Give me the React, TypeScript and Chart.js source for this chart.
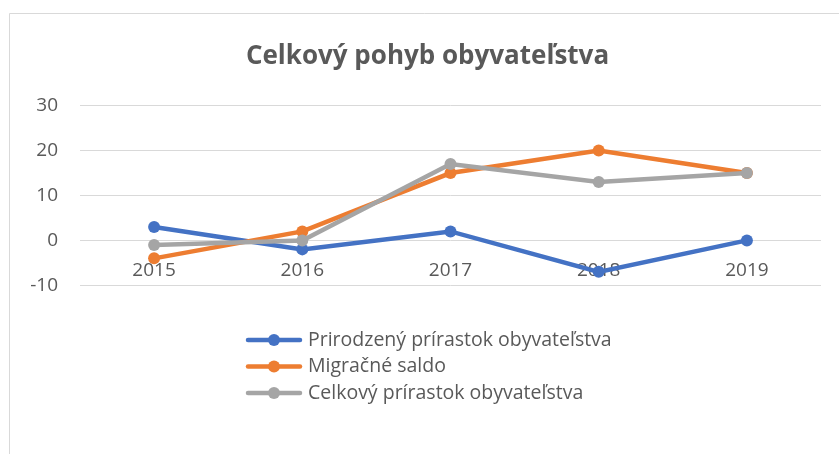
import React, { useEffect, useRef } from "react";
import { Chart, registerables } from "chart.js";

Chart.register(...registerables);

const titleText = "Celkový pohyb obyvateľstva";
const categories = ["2015", "2016", "2017", "2018", "2019"];
const seriesNames = [
  "Prirodzený prírastok obyvateľstva",
  "Migračné saldo",
  "Celkový prírastok obyvateľstva",
];
const prirodzenyPrirastok = [3, -2, 2, -7, 0];
const migracneSaldo = [-4, 2, 15, 20, 15];
const celkovyPrirastok = [-1, 0, 17, 13, 15];
const seriesColors = ["#4472C4", "#ED7D31", "#A5A5A5"];
const yMin = -10;
const yMax = 30;
const yStep = 10;

const FONT = "'Open Sans', Lato, sans-serif";
const TEXT = "#595959";
const GRID = "#d9d9d9";

const framePlugin = {
  id: "frameAndLegend",
  beforeDraw(chart: any) {
    const ctx = chart.ctx;
    ctx.save();
    ctx.fillStyle = "#ffffff";
    ctx.fillRect(0, 0, chart.width, chart.height);
    ctx.strokeStyle = GRID;
    ctx.lineWidth = 1;
    ctx.beginPath();
    ctx.moveTo(9.5, chart.height);
    ctx.lineTo(9.5, 13.5);
    ctx.lineTo(chart.width, 13.5);
    ctx.stroke();
    // title
    ctx.fillStyle = TEXT;
    ctx.font = `bold 26px ${FONT}`;
    ctx.textAlign = "center";
    ctx.textBaseline = "middle";
    ctx.fillText(titleText, 427.5, 56.5);
    ctx.restore();
  },
  afterDraw(chart: any) {
    const ctx = chart.ctx;
    ctx.save();
    const x0 = 248;
    const lineW = 52;
    const rowY0 = 340;
    const rowGap = 26.5;
    chart.data.datasets.forEach((ds: any, i: number) => {
      const y = rowY0 + i * rowGap;
      ctx.strokeStyle = ds.borderColor;
      ctx.lineWidth = 4.5;
      ctx.lineCap = "round";
      ctx.beginPath();
      ctx.moveTo(x0, y);
      ctx.lineTo(x0 + lineW, y);
      ctx.stroke();
      ctx.fillStyle = ds.borderColor;
      ctx.beginPath();
      ctx.arc(x0 + lineW / 2, y, 6, 0, Math.PI * 2);
      ctx.fill();
      ctx.fillStyle = TEXT;
      ctx.font = `19.5px ${FONT}`;
      ctx.textBaseline = "middle";
      ctx.textAlign = "left";
      ctx.fillText(ds.label, x0 + lineW + 8, y);
    });
    ctx.restore();
  },
};

export default function App() {
  const ref = useRef<HTMLCanvasElement | null>(null);

  useEffect(() => {
    if (!ref.current) return;
    const values = [prirodzenyPrirastok, migracneSaldo, celkovyPrirastok];
    const chart = new Chart(ref.current, {
      type: "line",
      data: {
        labels: categories,
        datasets: values.map((data, i) => ({
          label: seriesNames[i],
          data,
          borderColor: seriesColors[i],
          backgroundColor: seriesColors[i],
          pointBackgroundColor: seriesColors[i],
          pointBorderColor: seriesColors[i],
          borderWidth: 4.5,
          pointRadius: 6,
          pointBorderWidth: 0,
          tension: 0,
          order: values.length - i,
        })),
      },
      options: {
        responsive: false,
        animation: false,
        layout: { padding: { left: 0, right: 18, top: 105.7, bottom: 168.7 } },
        plugins: {
          legend: { display: false },
          tooltip: { enabled: false },
          title: { display: false },
        },
        scales: {
          y: {
            min: yMin,
            max: yMax,
            ticks: {
              stepSize: yStep,
              color: TEXT,
              font: { family: FONT, size: 19 },
              padding: 22,
            },
            grid: { color: GRID, lineWidth: 1, drawTicks: false },
            border: { display: false },
            afterFit: (s: any) => {
              s.width = 80;
            },
          },
          x: {
            type: "category",
            position: { y: 0 } as any,
            offset: true,
            grid: { display: false, drawTicks: false },
            border: { display: false },
            ticks: {
              color: TEXT,
              font: { family: FONT, size: 19 },
              padding: 19,
              maxRotation: 0,
              autoSkip: false,
            },
          },
        },
      },
      plugins: [framePlugin],
    });
    return () => chart.destroy();
  }, []);

  return (
    <div style={{ position: "fixed", left: 0, top: 0, width: 839, height: 454, background: "#fff" }}>
      <canvas ref={ref} width={839} height={454} style={{ display: "block" }} />
    </div>
  );
}
